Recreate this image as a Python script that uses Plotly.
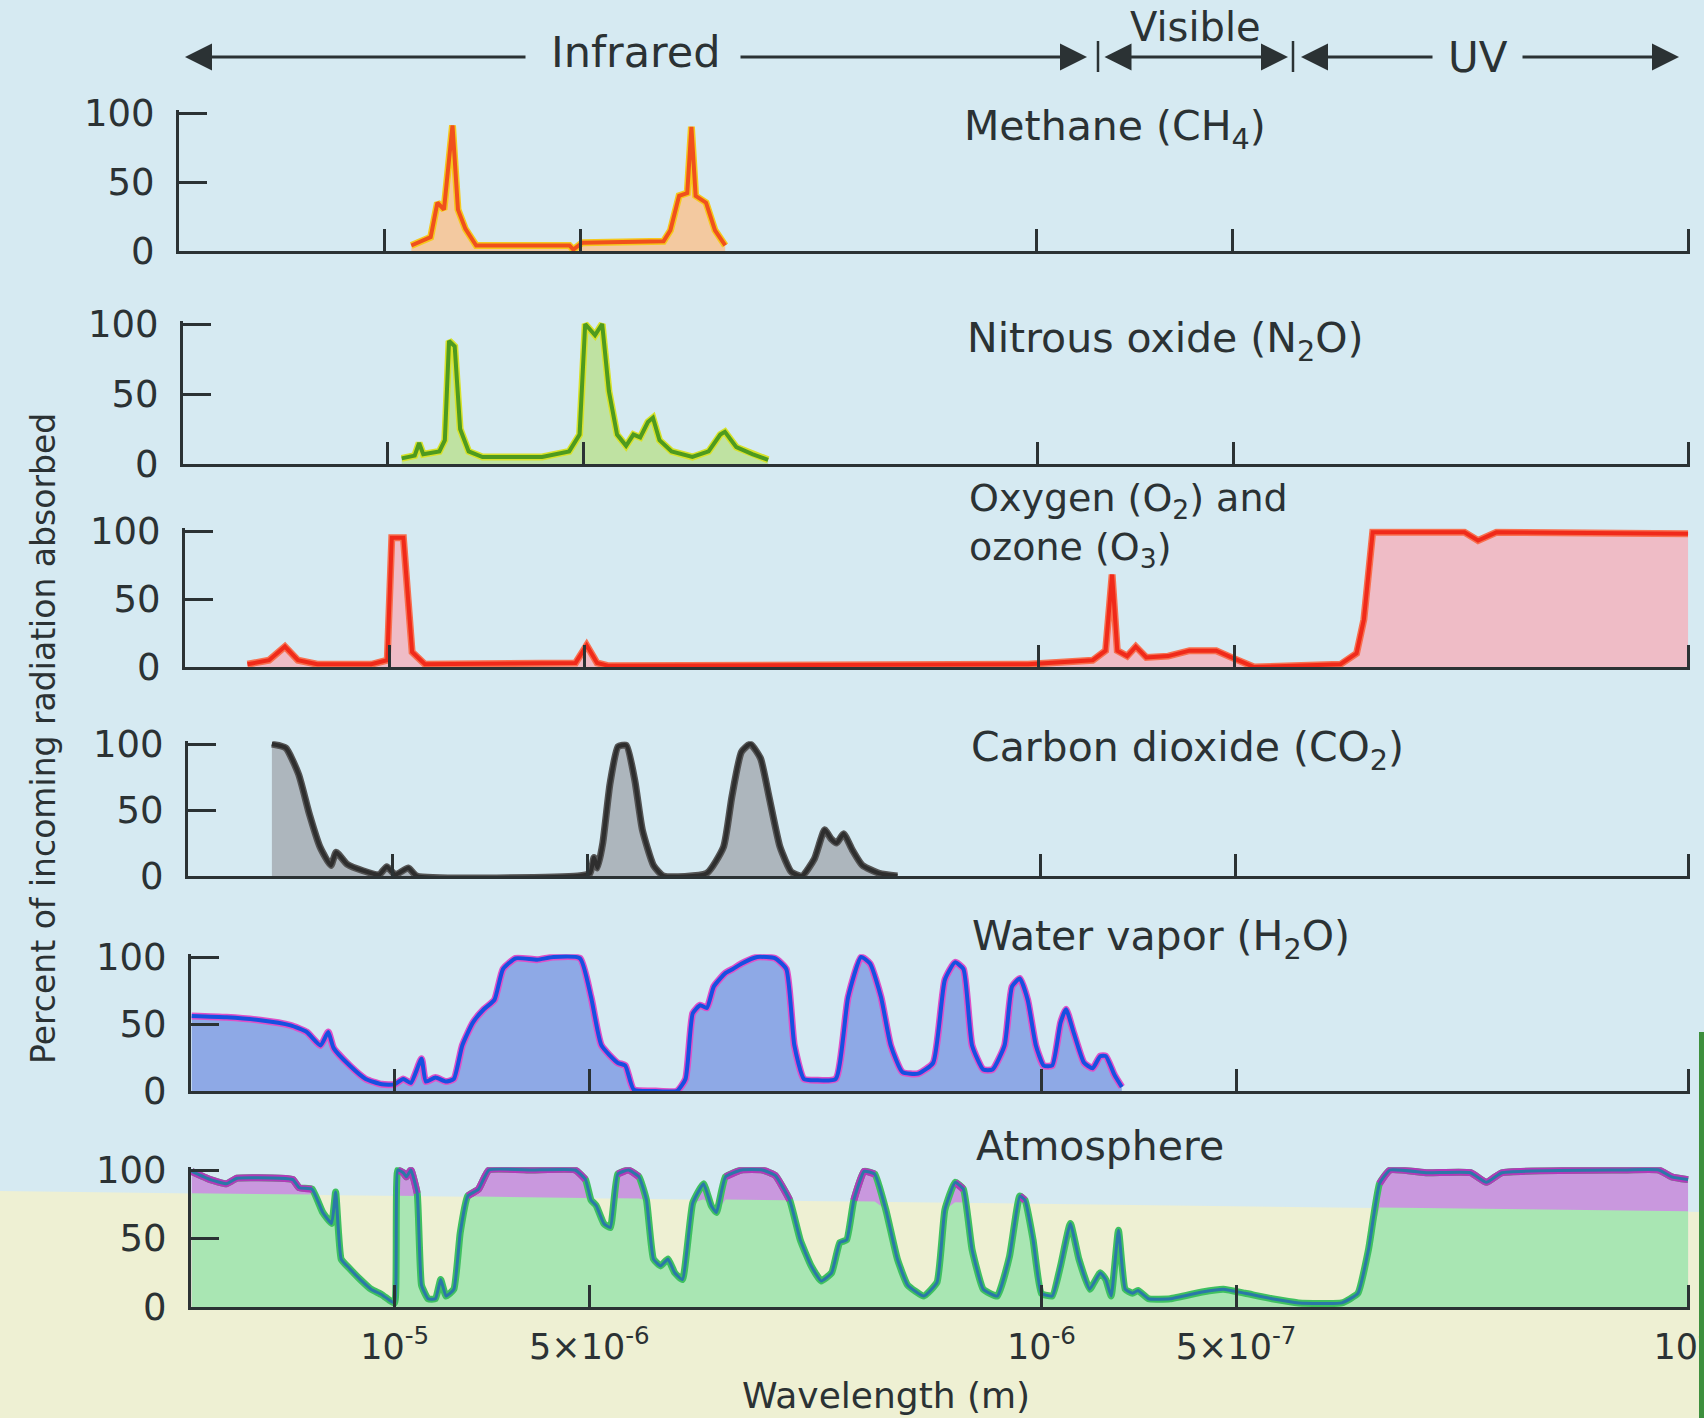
import numpy as np
import plotly.graph_objects as go

W, H = 1704, 1418

# ---------------- data: wavelength (micrometres) and percent absorbed ----------------
ch4_wl = [9.09, 8.49, 8.29, 8.10, 7.86, 7.71, 7.51, 7.23, 5.20, 5.13, 4.97, 3.73, 3.64,
          3.53, 3.43, 3.38, 3.33, 3.21, 3.11, 3.00]
ch4_pct = [4, 10, 35, 30, 91, 30, 16, 4, 4, 1, 6, 7, 15, 40, 42, 90, 40, 35, 15, 4]

n2o_wl = [9.52, 9.09, 8.95, 8.82, 8.33, 8.17, 8.05, 7.89, 7.74, 7.51, 7.15, 5.79, 5.26,
          5.07, 4.97, 4.80, 4.68, 4.57, 4.44, 4.30, 4.19, 4.09, 3.98, 3.91, 3.82, 3.66,
          3.40, 3.21, 3.08, 3.03, 2.91, 2.75, 2.60]
n2o_pct = [4, 6, 15, 7, 9, 17, 88, 84, 25, 9, 5, 5, 9, 21, 100, 92, 100, 52, 21, 13, 21,
           19, 30, 33, 17, 9, 5, 9, 21, 23, 12, 7, 3]

o_wl = [16.55, 15.33, 14.49, 13.84, 12.92, 10.67, 10.08, 9.92, 9.52, 9.23, 8.82, 5.17,
        4.97, 4.79, 4.61, 1.039, 0.826, 0.789, 0.771, 0.757, 0.731, 0.709, 0.683, 0.632,
        0.586, 0.533, 0.499, 0.466, 0.343, 0.324, 0.3157, 0.306, 0.221, 0.2106, 0.1973,
        0.100]
o_pct = [2, 5, 15, 5, 2, 2, 5, 95, 95, 11, 2, 3, 16, 3, 1, 2, 5, 12, 68, 12, 8, 15, 7, 8,
         12, 12, 6, 0, 2, 10, 35, 99, 99, 93, 99, 98]

co2_wl = [15.33, 14.59, 13.94, 13.42, 12.92, 12.43, 12.20, 11.74, 11.09, 10.47, 10.19,
          9.89, 9.44, 9.16, 5.17, 4.95, 4.88, 4.82, 4.73, 4.61, 4.48, 4.35, 4.22, 4.11,
          3.95, 3.81, 3.27, 3.08, 2.99, 2.89, 2.80, 2.70, 2.62, 2.52, 2.42, 2.33, 2.23,
          2.15, 2.10, 2.06, 2.01, 1.95, 1.88, 1.77, 1.66]
co2_pct = [100, 97, 77, 47, 22, 8, 18, 9, 4, 1, 7, 1, 6, 0, 0, 2, 14, 6, 25, 70, 98, 99,
           72, 35, 8, 0, 2, 22, 60, 94, 100, 89, 60, 22, 3, 0, 13, 35, 28, 25, 32, 20, 8,
           2, 0]

h2o_wl = [20.6, 18.21, 16.24, 14.49, 13.68, 13.02, 12.67, 12.43, 11.74, 11.09, 10.47,
          10.0, 9.70, 9.44, 9.09, 8.95, 8.65, 8.33, 8.10, 7.86, 7.57, 7.28, 7.01, 6.80,
          6.50, 6.02, 5.68, 5.17, 4.97, 4.79, 4.52, 4.40, 4.27, 3.95, 3.66, 3.55, 3.46,
          3.37, 3.29, 3.21, 3.08, 3.00, 2.91, 2.75, 2.58, 2.48, 2.41, 2.33, 2.23, 2.08,
          1.99, 1.90, 1.84, 1.77, 1.71, 1.64, 1.55, 1.47, 1.41, 1.36, 1.32, 1.28, 1.23,
          1.19, 1.14, 1.11, 1.08, 1.05, 1.02, 0.992, 0.962, 0.934, 0.916, 0.892, 0.859,
          0.833, 0.811, 0.795, 0.771, 0.751]
h2o_pct = [56, 55, 53, 49, 44, 34, 44, 32, 19, 9, 5, 5, 9, 6, 24, 7, 10, 7, 9, 34, 51, 61,
           68, 91, 99, 98, 100, 99, 70, 34, 21, 19, 1, 0, 0, 9, 58, 64, 62, 78, 88, 91,
           95, 100, 99, 91, 34, 9, 8, 9, 70, 100, 95, 70, 34, 14, 13, 21, 83, 96, 91, 34,
           16, 16, 34, 78, 84, 68, 34, 19, 19, 51, 61, 44, 21, 17, 26, 26, 12, 3]

atm_wl = [20.6, 19.28, 18.21, 17.53, 15.04, 14.37, 14.05, 13.42, 12.92, 12.52, 12.34,
          12.10, 11.74, 11.30, 10.88, 10.47, 10.19, 10.0, 9.89, 9.70, 9.59, 9.44, 9.23,
          9.09, 8.88, 8.65, 8.49, 8.33, 8.10, 7.92, 7.71, 7.42, 7.15, 6.13, 5.26, 5.07,
          4.97, 4.88, 4.75, 4.64, 4.52, 4.35, 4.19, 4.08, 3.98, 3.88, 3.78, 3.69, 3.59,
          3.46, 3.33, 3.24, 3.18, 3.08, 2.91, 2.70, 2.58, 2.45, 2.36, 2.27, 2.19, 2.11,
          2.05, 2.00, 1.95, 1.88, 1.81, 1.74, 1.67, 1.61, 1.52, 1.45, 1.41, 1.36, 1.32,
          1.28, 1.23, 1.17, 1.12, 1.08, 1.06, 1.03, 1.00, 0.962, 0.934, 0.902, 0.875,
          0.842, 0.811, 0.795, 0.780, 0.760, 0.742, 0.723, 0.709, 0.683, 0.632, 0.564,
          0.523, 0.484, 0.440, 0.400, 0.343, 0.324, 0.312, 0.300, 0.289, 0.253, 0.217,
          0.205, 0.194, 0.127, 0.111, 0.106, 0.100]
atm_pct = [99, 93, 90, 94, 94, 93, 87, 86, 69, 61, 84, 35, 28, 20, 13, 9, 5, 3, 100, 98,
           95, 100, 83, 16, 6, 6, 20, 8, 13, 54, 81, 86, 100, 100, 100, 93, 78, 74, 61,
           58, 97, 100, 95, 78, 35, 30, 35, 25, 20, 76, 90, 74, 69, 95, 100, 100, 96, 78,
           49, 30, 19, 25, 47, 49, 78, 99, 97, 71, 35, 16, 8, 18, 71, 91, 86, 42, 13, 8,
           37, 81, 78, 49, 10, 8, 30, 61, 35, 13, 25, 20, 8, 56, 13, 10, 12, 6, 6, 11, 13,
           10, 6, 3, 3, 10, 42, 90, 100, 98, 98, 91, 98, 100, 100, 95, 93]

tick_vals_m = [1e-5, 5e-6, 1e-6, 5e-7, 1e-7]
tick_text = ["10<sup>-5</sup>", "5×10<sup>-6</sup>", "10<sup>-6</sup>",
             "5×10<sup>-7</sup>", "10<sup>-7</sup>"]
y_ticks = [0, 50, 100]

# ---------------- styling ----------------
FONT = "DejaVu Sans"
INK = "#2b3234"
BG = "#d6eaf2"
CREAM = "#eef0d3"
X_RANGE = [-4.685, -7.003]
X_RIGHT = 1690

panels = [
    dict(wl=ch4_wl, pct=ch4_pct, line="#f0501c", glow="#f6c81e", fill="#f3c9a0",
         y100=113, y0=251, xl=179, smooth=0),
    dict(wl=n2o_wl, pct=n2o_pct, line="#4e9a1e", glow="#d8e22a", fill="#bfe2a2",
         y100=324, y0=464, xl=183, smooth=0),
    dict(wl=o_wl, pct=o_pct, line="#f02a1a", glow="#f87050", fill="#efbcc6",
         y100=531, y0=667, xl=185, smooth=0),
    dict(wl=co2_wl, pct=co2_pct, line="#2e2e2e", glow="#555555", fill="#adb6bd",
         y100=744, y0=876, xl=188, smooth=0.5),
    dict(wl=h2o_wl, pct=h2o_pct, line="#1650e0", glow="#e050c8", fill="#8ea9e6",
         y100=957, y0=1091, xl=191, smooth=0.5),
    dict(wl=atm_wl, pct=atm_pct, line="#1f9a64", glow="#3fc060", fill="#a9e6b3",
         y100=1170, y0=1307, xl=191, smooth=0.4),
]

fig = go.Figure()
layout = dict(
    template="none", autosize=False,
    width=W, height=H, margin=dict(l=0, r=0, t=0, b=0, pad=0, autoexpand=False),
    paper_bgcolor=BG, plot_bgcolor="rgba(0,0,0,0)", showlegend=False,
    font=dict(family=FONT, color=INK),
)


def ln(p, color, width):
    if p["smooth"]:
        return dict(color=color, width=width, shape="spline", smoothing=p["smooth"])
    return dict(color=color, width=width)


for i, p in enumerate(panels, start=1):
    s = "" if i == 1 else str(i)
    xa, ya = "x" + s, "y" + s
    wl_m = np.array(p["wl"]) * 1e-6
    pct = np.array(p["pct"], dtype=float)
    if i == 6:
        # colour split of the atmosphere fill (scan colour band)
        lw = np.log10(np.array(p["wl"]))
        a, b = np.log10(19.81), np.log10(0.103)
        band = 83 + (70 - 83) * (a - lw) / (a - b)
        fig.add_trace(go.Scatter(x=wl_m, y=pct, xaxis=xa, yaxis=ya, mode="lines",
                                 line=ln(p, "rgba(0,0,0,0)", 0), fill="tozeroy",
                                 fillcolor="#c998de", hoverinfo="skip"))
        fig.add_trace(go.Scatter(x=wl_m, y=np.minimum(pct, band), xaxis=xa, yaxis=ya,
                                 mode="lines", line=dict(width=0), fill="tozeroy",
                                 fillcolor=p["fill"], hoverinfo="skip"))
        fig.add_trace(go.Scatter(x=wl_m, y=pct, xaxis=xa, yaxis=ya, mode="lines",
                                 line=ln(p, p["glow"], 7), hoverinfo="skip"))
        top = np.where(pct >= band, pct, np.nan)
        fig.add_trace(go.Scatter(x=wl_m, y=top, xaxis=xa, yaxis=ya, mode="lines",
                                 line=ln(p, "#b23ab8", 7), connectgaps=False,
                                 hoverinfo="skip"))
        fig.add_trace(go.Scatter(x=wl_m, y=pct, xaxis=xa, yaxis=ya, mode="lines",
                                 line=ln(p, "#2a78a8", 3), hoverinfo="skip"))
    else:
        fig.add_trace(go.Scatter(x=wl_m, y=pct, xaxis=xa, yaxis=ya, mode="lines",
                                 line=ln(p, "rgba(0,0,0,0)", 0), fill="tozeroy",
                                 fillcolor=p["fill"], hoverinfo="skip"))
        fig.add_trace(go.Scatter(x=wl_m, y=pct, xaxis=xa, yaxis=ya, mode="lines",
                                 line=ln(p, p["glow"], 7), hoverinfo="skip"))
        fig.add_trace(go.Scatter(x=wl_m, y=pct, xaxis=xa, yaxis=ya, mode="lines",
                                 line=ln(p, p["line"], 4), hoverinfo="skip"))

    top_px = p["y0"] - (p["y0"] - p["y100"]) * 1.02
    layout["xaxis" + s] = dict(
        type="log", range=X_RANGE, domain=[p["xl"] / W, X_RIGHT / W], anchor=ya,
        automargin=False, ticklabeloverflow="allow",
        showgrid=False, zeroline=False, showline=True, linecolor=INK, linewidth=3,
        ticks="inside", ticklen=22, tickwidth=2.5, tickcolor=INK,
        tickvals=tick_vals_m, ticktext=tick_text, showticklabels=(i == 6),
        tickfont=dict(family=FONT, size=35, color=INK), ticklabelstandoff=7,
        fixedrange=True,
    )
    layout["yaxis" + s] = dict(
        range=[0, 102], domain=[1 - p["y0"] / H, 1 - top_px / H], anchor=xa,
        automargin=False,
        showgrid=False, zeroline=False, showline=True, linecolor=INK, linewidth=3,
        ticks="inside", ticklen=28, tickwidth=2.5, tickcolor=INK,
        tickvals=y_ticks, tickfont=dict(family=FONT, size=37, color=INK),
        ticklabelstandoff=14, fixedrange=True,
    )

fig.update_layout(**layout)

# ---------------- background / decorations ----------------
shapes = [
    dict(type="path", xref="paper", yref="paper", layer="below",
         path=f"M 0,{1 - 1191 / H} L 1,{1 - 1212 / H} L 1,0 L 0,0 Z",
         fillcolor=CREAM, line=dict(width=0)),
    dict(type="rect", xref="paper", yref="paper", x0=1699 / W, x1=1, y0=0,
         y1=1 - 1032 / H, fillcolor="#3d8f3d", line=dict(width=0)),
    dict(type="line", xref="paper", yref="paper", x0=1098 / W, x1=1098 / W,
         y0=1 - 41 / H, y1=1 - 72 / H, line=dict(color=INK, width=2.5)),
    dict(type="line", xref="paper", yref="paper", x0=1293 / W, x1=1293 / W,
         y0=1 - 41 / H, y1=1 - 72 / H, line=dict(color=INK, width=2.5)),
]
fig.update_layout(shapes=shapes)

ARROW_Y = 57


def arrow(tip, tail, both=False):
    fig.add_annotation(xref="paper", yref="paper", x=tip / W, y=1 - ARROW_Y / H,
                       ax=tail - tip, ay=0, text="", showarrow=True, arrowhead=2,
                       startarrowhead=2, arrowsize=1.8, startarrowsize=1.8,
                       arrowwidth=3, arrowcolor=INK,
                       arrowside="end+start" if both else "end")


arrow(185, 527)
arrow(1087, 739)
arrow(1288, 1103, both=True)
arrow(1301, 1434)
arrow(1679, 1521)


def label(text, x, y, size, anchor="left", angle=0):
    fig.add_annotation(xref="paper", yref="paper", x=x / W, y=1 - y / H, text=text,
                       showarrow=False, xanchor=anchor, yanchor="middle", align="left",
                       textangle=angle, font=dict(family=FONT, size=size, color=INK))


label("Infrared", 636, 52, 43, anchor="center")
label("Visible", 1195, 27, 40, anchor="center")
label("UV", 1478, 57, 42, anchor="center")

label("Methane (CH<sub>4</sub>)", 962, 129, 41)
label("Nitrous oxide (N<sub>2</sub>O)", 965, 341, 41)
label("Oxygen (O<sub>2</sub>) and<br>ozone (O<sub>3</sub>)", 967, 525, 38)
label("Carbon dioxide (CO<sub>2</sub>)", 969, 750, 41)
label("Water vapor (H<sub>2</sub>O)", 970, 939, 41)
label("Atmosphere", 974, 1146, 41)

label("Percent of incoming radiation absorbed", 43, 739, 33, anchor="center", angle=-90)
label("Wavelength (m)", 886, 1395, 36, anchor="center")

fig.write_html("out.html",
               config={"responsive": False, "displayModeBar": False},
               post_script="document.body.style.margin='0';"
                           "document.body.style.overflow='hidden';")
